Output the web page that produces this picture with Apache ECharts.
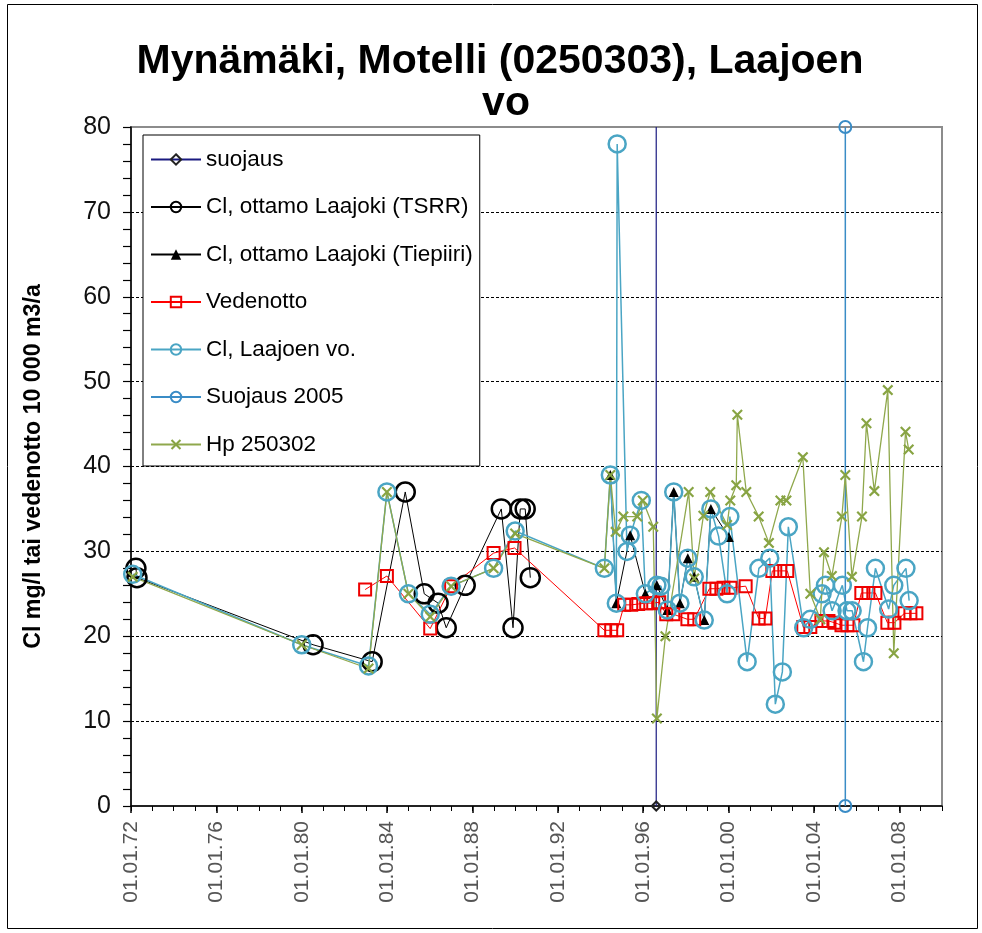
<!DOCTYPE html>
<html>
<head>
<meta charset="utf-8">
<script src="https://cdn.jsdelivr.net/npm/echarts@6/dist/echarts.min.js"></script>
<style>
  html, body { margin: 0; padding: 0; background: #fff; }
  #chart { width: 982px; height: 933px; }
</style>
</head>
<body>
<div id="chart"></div>
<script>
// Dates are decimal years; values are Cl mg/l or water intake (10 000 m3/a)

const titleLines = ['Mynämäki, Motelli (0250303), Laajoen', 'vo'];
const yAxisTitle = 'Cl mg/l tai vedenotto 10 000 m3/a';

const seriesNames = [
  'suojaus',
  'Cl, ottamo Laajoki (TSRR)',
  'Cl, ottamo Laajoki (Tiepiiri)',
  'Vedenotto',
  'Cl, Laajoen vo.',
  'Suojaus 2005',
  'Hp 250302'
];

const suojausYears = [1996.61, 1996.61];
const suojausValues = [0, 80];

const tsrrYears = [1972.23, 1972.28, 1980.53, 1983.30, 1984.85, 1985.74, 1986.39, 1986.77,
  1987.66, 1989.35, 1989.90, 1990.24, 1990.47, 1990.71];
const tsrrValues = [28.0, 26.9, 19.0, 17.0, 37.0, 25.0, 23.9, 21.0,
  26.0, 35.0, 21.0, 35.0, 35.0, 26.9];

const tiepiiriYears = [1994.46, 1994.74, 1995.39, 1996.10, 1996.64, 1997.13, 1997.43,
  1997.72, 1998.09, 1998.39, 1998.86, 1999.17, 2000.01];
const tiepiiriValues = [39.0, 23.9, 31.9, 25.0, 26.0, 23.1, 37.0,
  23.9, 29.2, 27.0, 21.9, 35.0, 31.7];

const vedenottoYears = [1982.97, 1983.99, 1986.02, 1987.00, 1988.99, 1989.97,
  1994.18, 1994.50, 1994.78, 1995.11, 1995.44, 1995.77, 1996.14, 1996.47, 1996.75,
  1997.08, 1997.41, 1998.07, 1998.39, 1999.10, 1999.43, 1999.76, 2000.09, 2000.80,
  2001.41, 2001.72, 2002.05, 2002.42, 2002.75, 2003.50, 2003.83, 2004.35, 2004.68,
  2004.96, 2005.29, 2005.57, 2005.85, 2006.22, 2006.55, 2006.88, 2007.44, 2007.77,
  2008.24, 2008.52, 2008.80];
const vedenottoValues = [25.5, 27.1, 20.9, 25.9, 29.8, 30.4,
  20.7, 20.7, 20.7, 23.7, 23.7, 23.8, 23.9, 23.9, 24.0,
  22.6, 22.6, 22.0, 22.0, 25.6, 25.6, 25.7, 25.7, 25.9,
  22.1, 22.1, 27.7, 27.7, 27.7, 21.1, 21.1, 21.8, 21.8,
  21.6, 21.3, 21.3, 21.3, 25.1, 25.1, 25.1, 21.6, 21.6,
  22.7, 22.7, 22.7];

const laajoenYears = [1972.08, 1980.00, 1983.13, 1983.99, 1985.00, 1986.02, 1987.00,
  1988.99, 1990.00, 1994.18, 1994.46, 1994.74, 1994.78, 1995.24, 1995.39, 1995.91,
  1996.10, 1996.64, 1996.83, 1997.13, 1997.43, 1997.72, 1998.09, 1998.39, 1998.86,
  1999.17, 1999.53, 1999.93, 2000.06, 2000.87, 2001.42, 2001.93, 2002.19, 2002.52,
  2002.80, 2003.52, 2003.83, 2004.38, 2004.54, 2004.85, 2005.33, 2005.55, 2005.79,
  2006.32, 2006.51, 2006.88, 2007.50, 2007.74, 2008.31, 2008.46];
const laajoenValues = [27.3, 19.0, 16.5, 37.0, 25.0, 22.6, 25.9,
  28.0, 32.4, 28.0, 39.0, 23.9, 78.0, 30.0, 31.9, 36.0,
  25.0, 26.0, 25.9, 23.1, 37.0, 23.9, 29.2, 27.0, 21.9,
  35.0, 31.8, 25.0, 34.1, 17.0, 28.0, 29.2, 12.0, 15.8,
  32.9, 21.0, 22.0, 25.0, 26.0, 23.0, 26.0, 23.0, 23.0,
  17.0, 21.0, 28.0, 23.2, 26.0, 28.0, 24.2];

const suojaus2005Years = [2005.47, 2005.47];
const suojaus2005Values = [80, 0];

const hpYears = [1972.08, 1980.00, 1983.13, 1983.99, 1985.00, 1986.02, 1987.00,
  1988.99, 1990.00, 1994.18, 1994.46, 1994.71, 1995.07, 1995.72, 1995.98, 1996.47,
  1996.64, 1997.04, 1998.13, 1998.39, 1998.82, 1999.14, 1999.93, 2000.08, 2000.36,
  2000.41, 2000.83, 2001.41, 2001.89, 2002.43, 2002.71, 2003.48, 2003.83, 2004.30,
  2004.47, 2004.84, 2005.31, 2005.47, 2005.78, 2006.25, 2006.46, 2006.83, 2007.46,
  2007.74, 2008.29, 2008.44];
const hpValues = [27.0, 19.0, 16.2, 37.0, 25.0, 22.3, 25.9,
  28.0, 32.1, 28.0, 39.0, 32.3, 34.1, 34.1, 36.0, 32.9,
  10.3, 20.0, 37.0, 26.8, 34.2, 37.0, 33.1, 36.0, 37.8,
  46.1, 37.0, 34.1, 31.0, 36.0, 36.0, 41.1, 25.0, 22.0,
  29.9, 27.1, 34.1, 39.0, 27.0, 34.1, 45.1, 37.1, 49.0,
  18.0, 44.1, 42.0];

const xMin = 1972, xMax = 2010, xStep = 4;
const yMin = 0, yMax = 80, yStep = 10;

function pairs(xs, ys) { return xs.map((x, i) => [x, ys[i]]); }

// filled "x" marker
const crossPath = 'path://M0,1.4L1.4,0L5,3.6L8.6,0L10,1.4L6.4,5L10,8.6L8.6,10L5,6.4L1.4,10L0,8.6L3.6,5Z';
const font = '"Liberation Sans", Arial, Helvetica, sans-serif';

const chart = echarts.init(document.getElementById('chart'), null, { renderer: 'canvas' });

const hollow = (c, w) => ({ color: 'rgba(255,255,255,0)', borderColor: c, borderWidth: w });

chart.setOption({
  animation: false,
  backgroundColor: '#fff',
  textStyle: { fontFamily: font },
  graphic: [
    { type: 'rect', shape: { x: 7.5, y: 4.5, width: 970, height: 924 },
      style: { fill: 'none', stroke: '#000', lineWidth: 1 }, silent: true, z: -1 },
    { type: 'text', x: 500, y: 62, style: { text: titleLines[0], font: 'bold 41px ' + font,
      fill: '#000', textAlign: 'center', textVerticalAlign: 'middle' } },
    { type: 'text', x: 506, y: 104, style: { text: titleLines[1], font: 'bold 41px ' + font,
      fill: '#000', textAlign: 'center', textVerticalAlign: 'middle' } }
  ],
  legend: {
    orient: 'vertical',
    left: 143,
    top: 135,
    data: seriesNames,
    itemWidth: 50,
    itemHeight: 13,
    itemGap: 24.5,
    padding: [13, 7, 10, 7],
    backgroundColor: '#fff',
    borderColor: '#000',
    borderWidth: 1,
    textStyle: { fontSize: 22.5, color: '#000', fontFamily: font },
    selectedMode: false
  },
  grid: {
    left: 131, top: 127, right: 40, bottom: 127,
    show: true, borderColor: '#8c8c8c', borderWidth: 2, backgroundColor: '#fff'
  },
  xAxis: [
    {
      type: 'value', min: xMin, max: xMax, interval: xStep,
      axisLine: { lineStyle: { color: '#000', width: 1.5 } },
      axisTick: { length: 7, lineStyle: { color: '#000', width: 1.5 } },
      axisLabel: {
        rotate: 90, margin: 15, fontSize: 21, color: '#555', showMaxLabel: false,
        formatter: v => (v - xMin) % xStep === 0 ? '01.01.' + String(v).slice(2) : ''
      },
      splitLine: { show: false }
    },
    {
      type: 'value', min: xMin, max: xMax, interval: 1, position: 'bottom',
      axisLine: { show: false },
      axisTick: { length: 5, lineStyle: { color: '#000', width: 1 } },
      axisLabel: { show: false },
      splitLine: { show: false }
    }
  ],
  yAxis: {
    type: 'value', min: yMin, max: yMax, interval: yStep,
    name: yAxisTitle, nameLocation: 'middle', nameGap: 86,
    nameTextStyle: { fontSize: 23.2, fontWeight: 'bold', color: '#000', fontFamily: font },
    axisLine: { show: true, lineStyle: { color: '#000', width: 1.5 } },
    axisTick: { length: 8, lineStyle: { color: '#000', width: 1.2 } },
    minorTick: { show: true, splitNumber: 5, length: 8, lineStyle: { color: '#000', width: 1.2 } },
    axisLabel: { fontSize: 25, color: '#111', margin: 20 },
    splitLine: { show: true, showMinLine: false, showMaxLine: false,
      lineStyle: { color: '#000', type: [3, 2], width: 1 } }
  },
  series: [
    {
      name: seriesNames[0], type: 'line', data: pairs(suojausYears, suojausValues)
        .map((p, i) => i === 1 ? { value: p, symbol: 'none' } : p),
      symbol: 'diamond', symbolSize: 9,
      lineStyle: { color: '#1a1a80', width: 1.2 },
      itemStyle: hollow('#222', 2), color: '#1a1a80'
    },
    {
      name: seriesNames[1], type: 'line', data: pairs(tsrrYears, tsrrValues),
      symbol: 'circle', symbolSize: 19,
      lineStyle: { color: '#000', width: 1 },
      itemStyle: hollow('#000', 2.5)
    },
    {
      name: seriesNames[2], type: 'line', data: pairs(tiepiiriYears, tiepiiriValues),
      symbol: 'triangle', symbolSize: 10,
      lineStyle: { color: '#000', width: 1 },
      itemStyle: { color: '#000' }
    },
    {
      name: seriesNames[3], type: 'line', data: pairs(vedenottoYears, vedenottoValues),
      symbol: 'rect', symbolSize: 12,
      lineStyle: { color: '#ff0000', width: 1 },
      itemStyle: hollow('#ee0000', 2)
    },
    {
      name: seriesNames[4], type: 'line', data: pairs(laajoenYears, laajoenValues),
      symbol: 'circle', symbolSize: 17,
      lineStyle: { color: '#4aa5c4', width: 1.5 },
      itemStyle: hollow('#4aa5c4', 2.5)
    },
    {
      name: seriesNames[5], type: 'line', data: pairs(suojaus2005Years, suojaus2005Values),
      symbol: 'circle', symbolSize: 12,
      lineStyle: { color: '#3a8cc6', width: 1.5 },
      itemStyle: hollow('#3a8cc6', 2)
    },
    {
      name: seriesNames[6], type: 'line', data: pairs(hpYears, hpValues),
      symbol: crossPath, symbolSize: 11,
      lineStyle: { color: '#8fa84c', width: 1.3 },
      itemStyle: { color: '#88a443' }
    }
  ]
});
</script>
</body>
</html>
